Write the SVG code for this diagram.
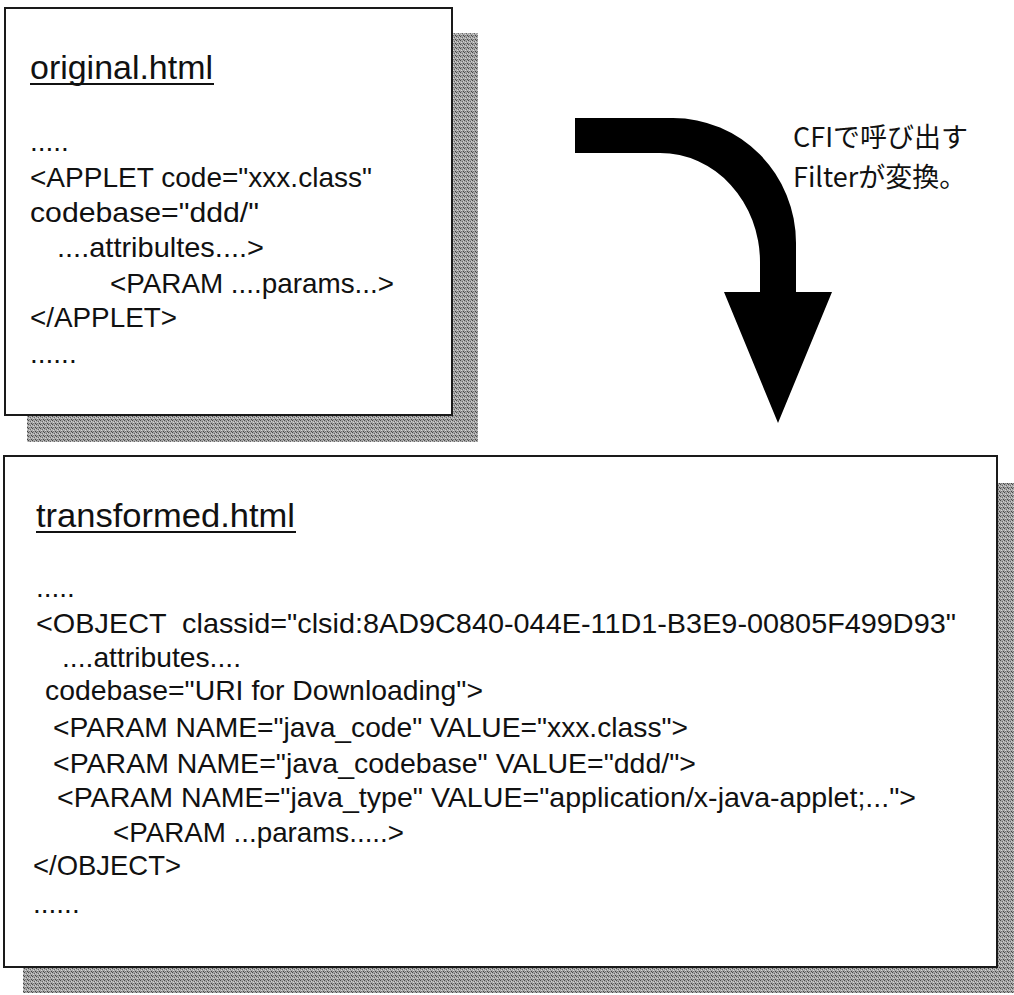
<svg xmlns="http://www.w3.org/2000/svg" width="1014" height="995" viewBox="0 0 1014 995">
<style>
.frame{fill:#ffffff;stroke:#1a1a1a;stroke-width:2}
.shadow{fill:url(#halftone)}
.title{font-family:"Liberation Sans",Arial,sans-serif;font-size:33px;fill:#111}
.code{font-family:"Liberation Sans",Arial,sans-serif;font-size:28px;fill:#111;white-space:pre}
.jp{font-family:"Noto Sans CJK JP","Noto Sans",sans-serif;font-size:27px;fill:#111}
.ul{stroke:#111;stroke-width:2}
.arrow{fill:#000}
</style>
<defs>
<pattern id="halftone" width="4" height="4" patternUnits="userSpaceOnUse">
<rect width="4" height="4" fill="#a6a6a6"/>
<rect x="0" y="0" width="1" height="1" fill="#4a4a4a"/>
<rect x="2" y="1" width="1" height="1" fill="#666"/>
<rect x="1" y="2" width="1" height="1" fill="#d6d6d6"/>
<rect x="3" y="3" width="1" height="1" fill="#444"/>
<rect x="3" y="1" width="1" height="1" fill="#cfcfcf"/>
<rect x="1" y="3" width="1" height="1" fill="#777"/>
</pattern>
</defs>
<rect width="1014" height="995" fill="#ffffff"/>

<g id="original">
<rect class="shadow" x="27" y="33" width="451" height="409"/>
<rect class="frame" x="5" y="8" width="447" height="407"/>
<text class="title" x="30" y="79" textLength="183" lengthAdjust="spacingAndGlyphs">original.html</text>
<line class="ul" x1="30" y1="84" x2="214" y2="84"/>
<text class="code" x="30" y="151">.....</text>
<text class="code" x="30" y="187" textLength="342" lengthAdjust="spacingAndGlyphs">&lt;APPLET code="xxx.class"</text>
<text class="code" x="30" y="222" textLength="229" lengthAdjust="spacingAndGlyphs">codebase="ddd/"</text>
<text class="code" x="57" y="257" textLength="207" lengthAdjust="spacingAndGlyphs">....attribultes....&gt;</text>
<text class="code" x="110" y="293" textLength="284" lengthAdjust="spacingAndGlyphs">&lt;PARAM ....params...&gt;</text>
<text class="code" x="30" y="327" textLength="147" lengthAdjust="spacingAndGlyphs">&lt;/APPLET&gt;</text>
<text class="code" x="30" y="363">......</text>
</g>

<g id="transformed">
<rect class="shadow" x="23" y="483" width="1000" height="510"/>
<rect class="frame" x="4" y="456" width="993" height="511"/>
<text class="title" x="36" y="527" textLength="259" lengthAdjust="spacingAndGlyphs">transformed.html</text>
<line class="ul" x1="36" y1="532" x2="296" y2="532"/>
<text class="code" x="36" y="597">.....</text>
<text class="code" x="36" y="633" textLength="920" lengthAdjust="spacingAndGlyphs">&lt;OBJECT  classid="clsid:8AD9C840-044E-11D1-B3E9-00805F499D93"</text>
<text class="code" x="62" y="667" textLength="179" lengthAdjust="spacingAndGlyphs">....attributes....</text>
<text class="code" x="45" y="700" textLength="438" lengthAdjust="spacingAndGlyphs">codebase="URI for Downloading"&gt;</text>
<text class="code" x="53" y="737" textLength="635" lengthAdjust="spacingAndGlyphs">&lt;PARAM NAME="java_code" VALUE="xxx.class"&gt;</text>
<text class="code" x="53" y="773" textLength="643" lengthAdjust="spacingAndGlyphs">&lt;PARAM NAME="java_codebase" VALUE="ddd/"&gt;</text>
<text class="code" x="57" y="807" textLength="859" lengthAdjust="spacingAndGlyphs">&lt;PARAM NAME="java_type" VALUE="application/x-java-applet;..."&gt;</text>
<text class="code" x="113" y="842" textLength="291" lengthAdjust="spacingAndGlyphs">&lt;PARAM ...params.....&gt;</text>
<text class="code" x="33" y="875" textLength="148" lengthAdjust="spacingAndGlyphs">&lt;/OBJECT&gt;</text>
<text class="code" x="33" y="913">......</text>
</g>

<g id="filter-label">
<text class="jp" x="793" y="147">CFIで呼び出す</text>
<text class="jp" x="793" y="187">Filterが変換。</text>
</g>

<g id="connectors">
<path class="arrow" d="M575,118 H673 A123,125 0 0 1 796,243 V292 H832 L778,423 L724,292 H760 V262 A100,109 0 0 0 660,153 H575 Z"/>
</g>
</svg>
